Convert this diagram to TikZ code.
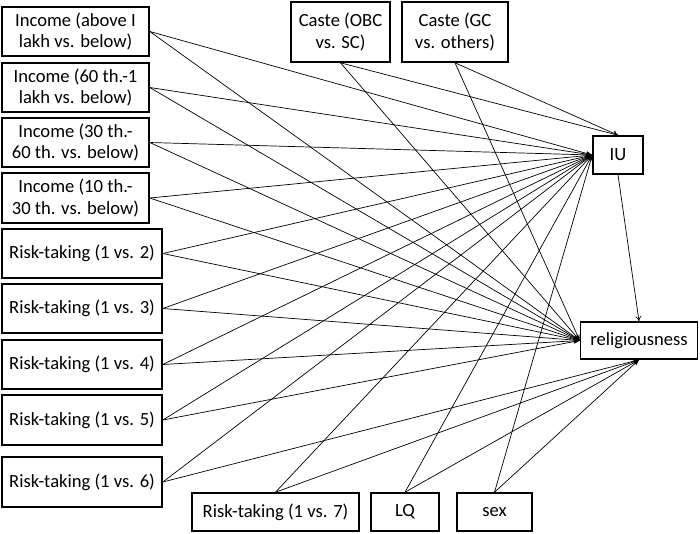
\documentclass[tikz,border=0pt]{standalone}
\usepackage{fontspec}
\setmainfont{Carlito}
\usetikzlibrary{arrows.meta}
\begin{document}
\begin{tikzpicture}[x=1pt,y=-1pt,
  box/.style={draw, line width=1.6pt, inner sep=0pt, align=center,
    font=\fontsize{18.6}{21.7}\selectfont},
  arr/.style={line width=0.7pt, -{Stealth[length=6pt,width=4.5pt]}},
  arro/.style={line width=0.7pt, -{To[length=5pt,width=6pt]}}]
\useasboundingbox (0,0) rectangle (700,533);
\node[box, minimum width=147pt, minimum height=49pt] (i1) at (75.5,31.5) {Income (above I\\lakh vs. below)};
\node[box, minimum width=147pt, minimum height=49pt] (i2) at (75.5,87.5) {Income (60 th.-1\\lakh vs. below)};
\node[box, minimum width=147pt, minimum height=49pt] (i3) at (75.5,142.5) {Income (30 th.-\\60 th. vs. below)};
\node[box, minimum width=147pt, minimum height=50pt] (i4) at (75.5,198) {Income (10 th.-\\30 th. vs. below)};
\node[box, minimum width=160pt, minimum height=49pt] (r2) at (82,253.5) {Risk-taking (1 vs. 2)};
\node[box, minimum width=160pt, minimum height=49pt] (r3) at (82,308.5) {Risk-taking (1 vs. 3)};
\node[box, minimum width=160pt, minimum height=49pt] (r4) at (82,364.5) {Risk-taking (1 vs. 4)};
\node[box, minimum width=160pt, minimum height=50pt] (r5) at (82,420) {Risk-taking (1 vs. 5)};
\node[box, minimum width=160pt, minimum height=50pt] (r6) at (82,482) {Risk-taking (1 vs. 6)};
\node[box, minimum width=167pt, minimum height=38pt] (r7) at (275.5,512) {Risk-taking (1 vs. 7)};
\node[box, minimum width=68pt, minimum height=38pt] (lq) at (405,512) {LQ};
\node[box, minimum width=75pt, minimum height=38pt] (sex) at (494.5,512) {sex};
\node[box, minimum width=99pt, minimum height=60pt] (obc) at (340.5,32) {Caste (OBC\\vs. SC)};
\node[box, minimum width=106pt, minimum height=60pt] (gc) at (455,32) {Caste (GC\\vs. others)};
\node[box, minimum width=50pt, minimum height=38pt] (iu) at (618,155) {IU};
\node[box, minimum width=117pt, minimum height=37pt] (rel) at (639,340.5) {religiousness};
\foreach \n in {i1,i2,i3,i4,r2,r3,r4,r5}{
  \draw[arr] (\n.east) -- (iu.west);
  \draw[arr] (\n.east) -- (rel.west);
}
\draw[arr] (r6.east) -- (iu.west);
\draw[arr] (r6.east) -- (rel.south);
\foreach \n in {r7,lq,sex}{
  \draw[arr] (\n.north) -- (iu.west);
  \draw[arr] (\n.north) -- (rel.south);
}
\foreach \n in {obc,gc}{
  \draw[arro] (\n.south) -- (iu.north);
  \draw[arr] (\n.south) -- (rel.west);
}
\draw[arro] (iu.south) -- (rel.north);
\end{tikzpicture}
\end{document}
